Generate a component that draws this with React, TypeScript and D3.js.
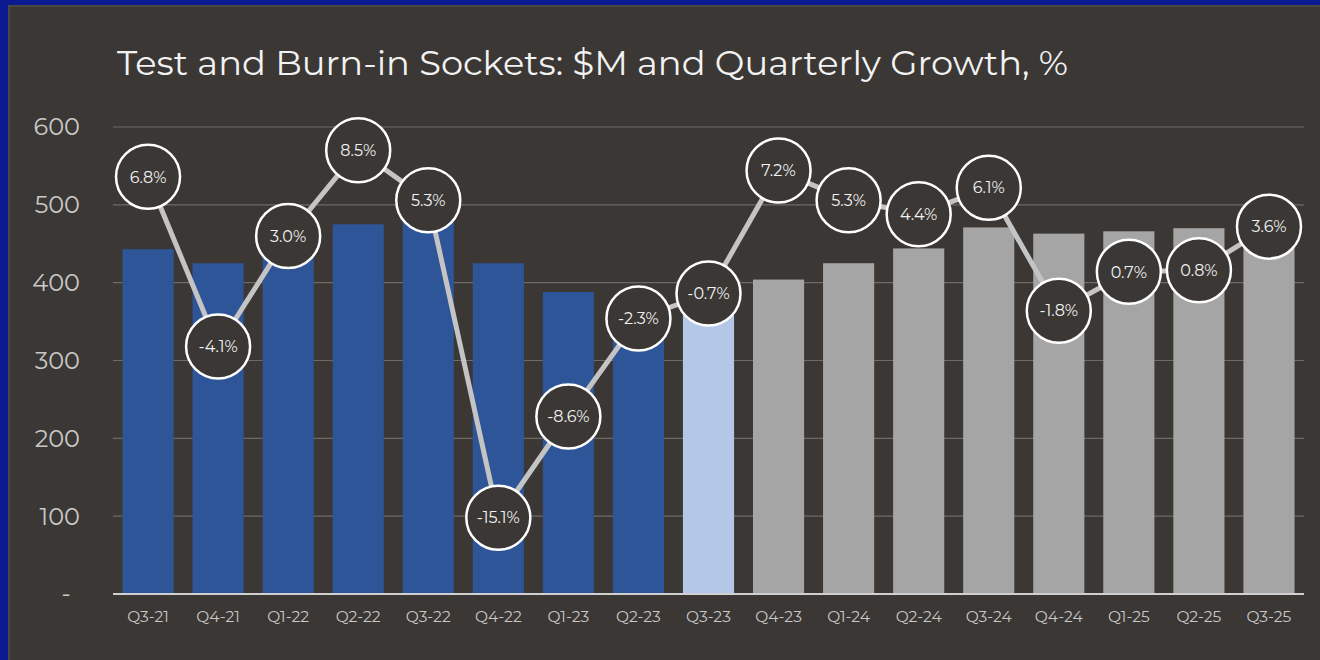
import React from "react";
import * as d3 from "d3";

const quarters = ["Q3-21","Q4-21","Q1-22","Q2-22","Q3-22","Q4-22","Q1-23","Q2-23","Q3-23","Q4-23","Q1-24","Q2-24","Q3-24","Q4-24","Q1-25","Q2-25","Q3-25"];
const revenue = [443, 425, 438, 475, 500, 425, 388, 379, 377, 404, 425, 444, 471, 463, 466, 470, 487];
const growth = [6.8, -4.1, 3.0, 8.5, 5.3, -15.1, -8.6, -2.3, -0.7, 7.2, 5.3, 4.4, 6.1, -1.8, 0.7, 0.8, 3.6];
const barKind = ["actual","actual","actual","actual","actual","actual","actual","actual","current","forecast","forecast","forecast","forecast","forecast","forecast","forecast","forecast"];
const yTicks = [0, 100, 200, 300, 400, 500, 600];
const title = "Test and Burn-in Sockets: $M and Quarterly Growth, %";

const W = 1320, H = 660;
const FONT = "Montserrat, 'Open Sans', 'DejaVu Sans', sans-serif";
const BG = "#3b3734";
const colors: Record<string, string> = { actual: "#2e5597", current: "#b4c7e7", forecast: "#a5a5a5" };

export default function App() {
  const left = 113, right = 1304, top = 127, bottom = 594;
  const x = d3.scaleBand<string>().domain(quarters).range([left, right]).paddingInner(0.27).paddingOuter(0.135);
  const y = d3.scaleLinear().domain([0, 600]).range([bottom, top]);
  const y2 = d3.scaleLinear().domain([-20, 10]).range([bottom, top]);
  const line = d3.line<number>().x((_, i) => (x(quarters[i]) as number) + x.bandwidth() / 2).y((d) => y2(d));
  return (
    <svg width={W} height={H} style={{ position: "absolute", left: 0, top: 0 }} fontFamily={FONT}>
      <rect x={0} y={0} width={W} height={H} fill="#0b1a90" />
      <rect x={8} y={5} width={W - 8} height={H - 5} fill="#4a4642" />
      <rect x={10} y={7} width={W - 10} height={H - 7} fill={BG} />
      <text x={117} y={75} fill="#f2f2f2" fontSize={34} textLength={951} lengthAdjust="spacingAndGlyphs">{title}</text>
      {yTicks.filter((t) => t > 0).map((t) => (
        <line key={t} x1={left} x2={right} y1={y(t)} y2={y(t)} stroke="#6e6a66" strokeWidth={1.2} />
      ))}
      {yTicks.map((t) => (
        <text key={t} x={t === 0 ? 66 : 80} y={y(t)} dy="0.35em" textAnchor={t === 0 ? "middle" : "end"} fill="#c8c8c8" fontSize={24}>
          {t === 0 ? "-" : String(t)}
        </text>
      ))}
      {quarters.map((q, i) => (
        <rect key={q} x={x(q)} y={y(revenue[i])} width={x.bandwidth()} height={y(0) - y(revenue[i])} fill={colors[barKind[i]]} />
      ))}
      <line x1={left} x2={right} y1={bottom} y2={bottom} stroke="#d0d0d0" strokeWidth={2} />
      {quarters.map((q) => (
        <text key={q} x={(x(q) as number) + x.bandwidth() / 2} y={617} dy="0.35em" textAnchor="middle" fill="#c8c8c8" fontSize={15.5}>
          {q}
        </text>
      ))}
      <path d={line(growth) || ""} fill="none" stroke="#c4c4c4" strokeWidth={5} />
      {growth.map((g, i) => {
        const cx = (x(quarters[i]) as number) + x.bandwidth() / 2;
        const cy = y2(g);
        return (
          <g key={i}>
            <circle cx={cx} cy={cy} r={32} fill="#3a3735" stroke="#ffffff" strokeWidth={2.5} />
            <text x={cx} y={cy} dy="0.36em" textAnchor="middle" fill="#f2f2f2" fontSize={16}>
              {g.toFixed(1) + "%"}
            </text>
          </g>
        );
      })}
    </svg>
  );
}
